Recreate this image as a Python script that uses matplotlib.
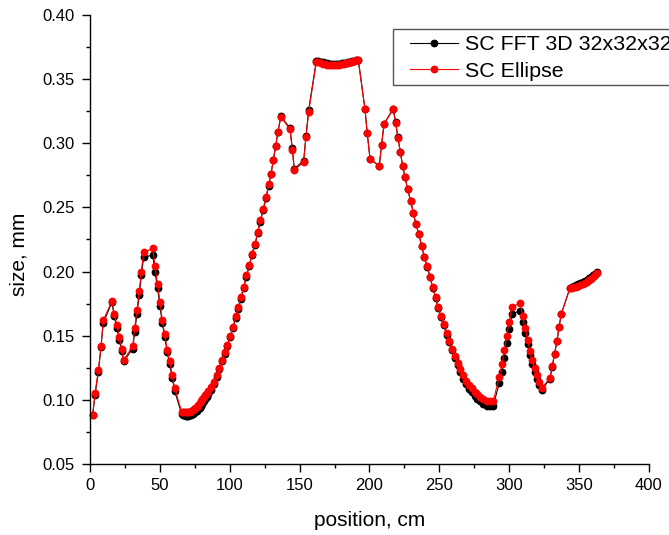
import matplotlib
matplotlib.use("Agg")
import matplotlib.pyplot as plt
from matplotlib.patches import Rectangle
from matplotlib.ticker import MultipleLocator, FormatStrFormatter

plt.rcParams['font.family'] = ['Liberation Sans', 'DejaVu Sans']

# position along the sample, cm
position = [
    1.9, 3.6, 6.0, 7.9, 9.5, 15.7, 17.4, 19.3, 21.0, 22.7, 24.1,
    30.6, 32.0, 33.6, 35.3, 36.7, 38.4, 44.9, 46.5, 48.4, 50.1, 51.7,
    53.5, 55.3, 57.0, 58.9, 60.6,
    65.6, 66.5, 67.5, 68.5, 69.5, 70.5, 71.5, 72.5, 73.5, 74.5,
    75.5, 76.5, 77.5, 78.5, 79.5, 80.5, 81.5, 82.5, 83.5, 84.5,
    86.6, 88.5, 90.6, 92.5, 94.5, 96.4, 98.3, 100.4, 102.3, 104.3,
    106.1, 108.1, 110.0, 111.9, 114.0, 115.9, 118.1, 120.0, 121.9, 124.0,
    125.9, 127.9, 129.5, 131.2, 132.9, 134.5, 136.6, 143.1, 144.8, 146.2,
    152.9, 154.6, 156.5,
    162.0, 163.5, 165.0, 166.5, 168.0, 169.5, 171.0, 172.5, 174.0, 175.5,
    177.0, 178.5, 180.0, 181.5, 183.0, 184.5, 186.0, 187.5, 189.0, 190.5,
    192.0,
    196.8, 198.4, 200.4, 207.0, 208.7, 210.4, 217.0, 218.7, 220.4, 222.1,
    223.8, 225.4, 227.3, 229.5, 231.3, 233.3, 235.4, 237.3, 239.2, 241.4,
    243.4, 245.2, 247.4, 249.2, 251.2, 253.1, 255.2, 257.1, 259.2, 261.2,
    263.1, 265.0, 267.1, 269.0, 271.2, 273.1, 275.3, 277.1, 279.1, 281.4,
    283.8, 286.2, 288.6,
    292.9, 294.8, 296.5, 298.2, 300.0, 302.0, 307.9, 309.6, 311.3, 313.2,
    314.9, 316.5, 318.2, 319.9, 321.5, 323.2, 329.2, 330.8, 332.5, 334.2,
    335.6, 337.3, 343.5,
    345.0, 346.5, 348.0, 349.5, 351.0, 352.5, 354.0, 355.5, 357.0, 358.5,
    360.0, 361.5, 363.0,
]

# SC FFT 3D 32x32x32, mm
size_fft = [
    0.088, 0.104, 0.122, 0.141, 0.160, 0.176, 0.165, 0.156, 0.147, 0.138, 0.130,
    0.140, 0.153, 0.167, 0.182, 0.197, 0.211, 0.213, 0.200, 0.187, 0.173, 0.160,
    0.149, 0.137, 0.128, 0.117, 0.107,
    0.0890, 0.0885, 0.0880, 0.0878, 0.0877, 0.0878, 0.0880, 0.0885, 0.0890, 0.0897,
    0.0905, 0.0915, 0.0927, 0.0940, 0.0955, 0.0970, 0.0988, 0.1005, 0.1025, 0.1045,
    0.108, 0.112, 0.118, 0.124, 0.130, 0.136, 0.142, 0.149, 0.156, 0.164,
    0.171, 0.179, 0.187, 0.196, 0.204, 0.213, 0.221, 0.230, 0.239, 0.248,
    0.257, 0.267, 0.276, 0.287, 0.298, 0.309, 0.321, 0.312, 0.296, 0.280,
    0.2865, 0.306, 0.326,
    0.3645, 0.3640, 0.3635, 0.3630, 0.3626, 0.3622, 0.3620, 0.3618, 0.3617, 0.3617,
    0.3618, 0.3620, 0.3622, 0.3625, 0.3628, 0.3632, 0.3636, 0.3640, 0.3644, 0.3648,
    0.3652,
    0.3265, 0.308, 0.288, 0.282, 0.299, 0.315, 0.327, 0.3165, 0.3045, 0.293,
    0.282, 0.274, 0.264, 0.255, 0.246, 0.237, 0.229, 0.220, 0.2113, 0.2035,
    0.1955, 0.1875, 0.1793, 0.1713, 0.1643, 0.158, 0.1508, 0.1448, 0.1386, 0.1326,
    0.1272, 0.122, 0.1166, 0.1125, 0.1088, 0.106, 0.1032, 0.101, 0.0988, 0.0968,
    0.0955, 0.0950, 0.0955,
    0.113, 0.122, 0.133, 0.144, 0.155, 0.167, 0.1695, 0.161, 0.152, 0.1435,
    0.135, 0.128, 0.122, 0.1165, 0.1115, 0.1075, 0.1165, 0.126, 0.136, 0.146,
    0.1565, 0.167, 0.1875,
    0.1882, 0.1887, 0.1893, 0.1900, 0.1908, 0.1917, 0.1926, 0.1936, 0.1947, 0.1958,
    0.1970, 0.1983, 0.2000,
]

# SC Ellipse, mm
size_ellipse = [
    0.088, 0.105, 0.123, 0.142, 0.162, 0.177, 0.167, 0.158, 0.149, 0.140, 0.131,
    0.142, 0.156, 0.170, 0.185, 0.200, 0.215, 0.218, 0.204, 0.190, 0.176, 0.162,
    0.151, 0.139, 0.130, 0.119, 0.109,
    0.0908, 0.0905, 0.0903, 0.0902, 0.0902, 0.0905, 0.0908, 0.0913, 0.0920, 0.0928,
    0.0937, 0.0948, 0.0960, 0.0973, 0.0988, 0.1003, 0.1020, 0.1037, 0.1053, 0.1070,
    0.110, 0.114, 0.119, 0.125, 0.131, 0.137, 0.143, 0.150, 0.157, 0.165,
    0.172, 0.180, 0.188, 0.197, 0.205, 0.214, 0.2215, 0.231, 0.240, 0.249,
    0.258, 0.268, 0.276, 0.287, 0.298, 0.309, 0.3205, 0.311, 0.295, 0.279,
    0.2854, 0.305, 0.3246,
    0.3635, 0.3630, 0.3625, 0.3620, 0.3617, 0.3614, 0.3612, 0.3610, 0.3609, 0.3609,
    0.3610, 0.3612, 0.3615, 0.3618, 0.3622, 0.3626, 0.3631, 0.3636, 0.3641, 0.3646,
    0.3650,
    0.3265, 0.308, 0.288, 0.2825, 0.299, 0.315, 0.3265, 0.316, 0.304, 0.293,
    0.282, 0.274, 0.264, 0.255, 0.246, 0.237, 0.229, 0.220, 0.2116, 0.204,
    0.196, 0.188, 0.180, 0.172, 0.165, 0.159, 0.152, 0.146, 0.140, 0.134,
    0.129, 0.124, 0.119, 0.115, 0.1116, 0.109, 0.1063, 0.1043, 0.1025, 0.1005,
    0.0995, 0.0992, 0.0990,
    0.118, 0.128, 0.139, 0.150, 0.161, 0.1726, 0.1753, 0.1654, 0.156, 0.147,
    0.138, 0.131, 0.1246, 0.119, 0.114, 0.109, 0.117, 0.1264, 0.136, 0.146,
    0.1566, 0.167, 0.187,
    0.1872, 0.1876, 0.1881, 0.1887, 0.1894, 0.1902, 0.1911, 0.1921, 0.1932, 0.1944,
    0.1957, 0.1971, 0.1990,
]

W, H = 669, 535
fig = plt.figure(figsize=(W / 100, H / 100), dpi=100)
ax = fig.add_axes([0.1345, 0.1327, 0.8355, 0.8393])

ax.plot(position, size_fft, color='black', lw=0.8, marker='o', ms=4.6,
        mec='black', mfc='black', label='SC FFT 3D 32x32x32', clip_on=False)
ax.plot(position, size_ellipse, color='red', lw=0.8, marker='o', ms=4.6,
        mec='red', mfc='red', label='SC Ellipse', clip_on=False)

ax.set_xlim(0, 400)
ax.set_ylim(0.05, 0.40)
ax.xaxis.set_major_locator(MultipleLocator(50))
ax.xaxis.set_minor_locator(MultipleLocator(25))
ax.yaxis.set_major_locator(MultipleLocator(0.05))
ax.yaxis.set_minor_locator(MultipleLocator(0.025))
ax.yaxis.set_major_formatter(FormatStrFormatter('%.2f'))

for side in ['top', 'right']:
    ax.spines[side].set_visible(False)
for side in ['left', 'bottom']:
    ax.spines[side].set_linewidth(1.0)

ax.tick_params(which='major', direction='out', length=6, width=1.0, labelsize=12)
ax.tick_params(which='minor', direction='out', length=3, width=1.0)
ax.tick_params(axis='x', which='major', pad=4)
ax.tick_params(axis='y', which='major', pad=5)

ax.set_xlabel('position, cm', fontsize=15)
ax.set_ylabel('size, mm', fontsize=15)
ax.xaxis.set_label_coords(0.5, -0.105)
ax.yaxis.set_label_coords(-0.11, 0.468)

# legend frame runs past the right edge of the picture, as in the original
fig.patches.append(Rectangle((393 / W, 1 - 85 / H), 300 / W, 56 / H,
                             transform=fig.transFigure, fill=False,
                             edgecolor='#555555', lw=1.0))
leg = fig.legend(loc='upper left', bbox_to_anchor=(410 / W, 1 - 35 / H),
                 fontsize=15.4, frameon=False, borderpad=0,
                 handlelength=2.25, handletextpad=0.33, labelspacing=0.36,
                 borderaxespad=0)

fig.savefig('out.png', dpi=100)
